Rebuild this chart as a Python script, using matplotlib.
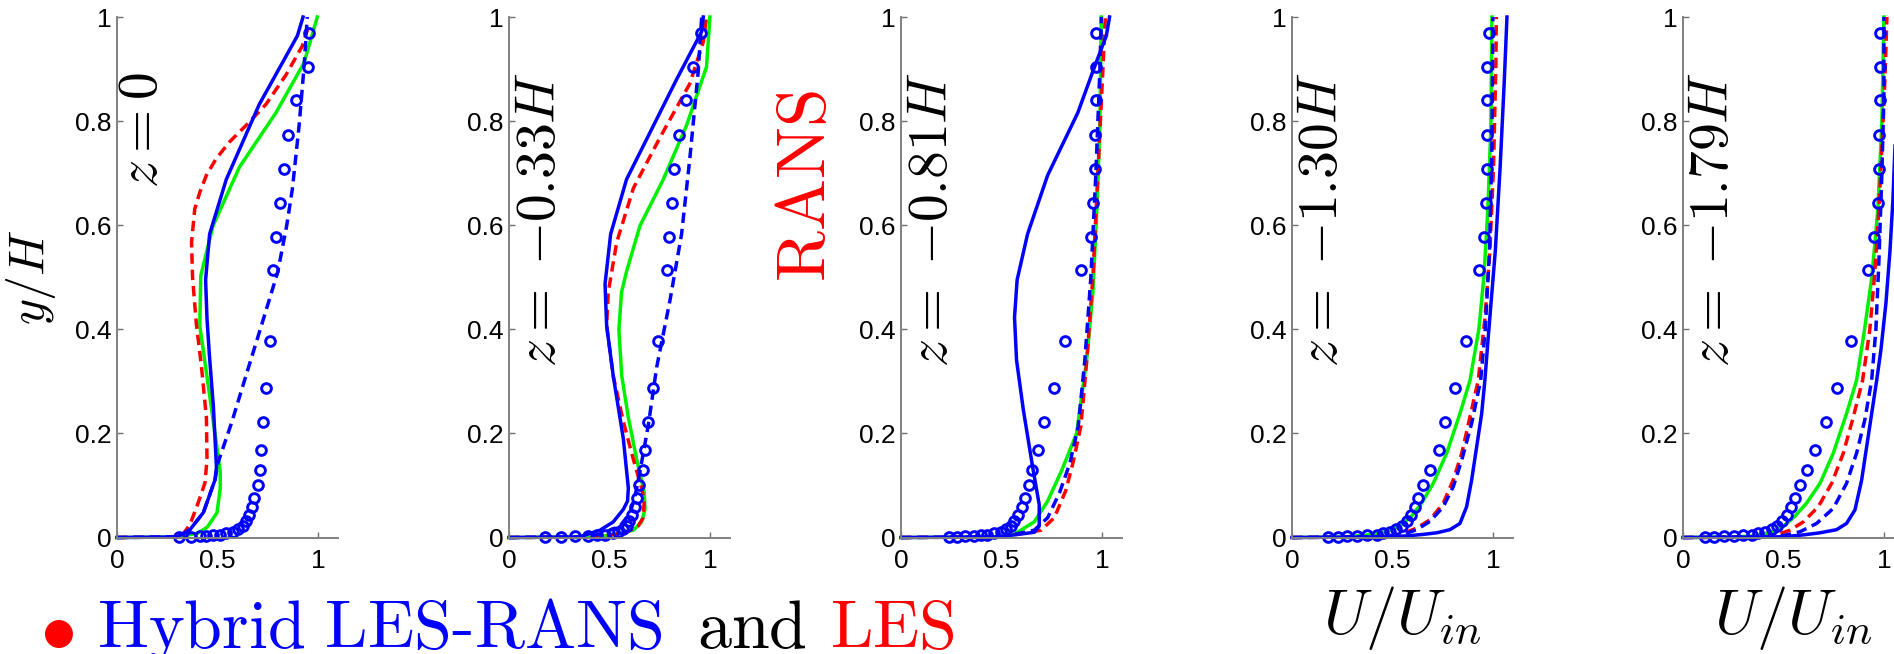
import matplotlib
matplotlib.use('Agg')
import matplotlib.pyplot as plt

plt.rcParams['mathtext.fontset'] = 'cm'
plt.rcParams['font.family'] = 'Liberation Sans'

# streamwise stations
z_labels = [r'$z=0$', r'$z=\;{-}0.33H$', r'$z=\;{-}0.81H$', r'$z=\;{-}1.30H$', r'$z=\;{-}1.79H$']

# measured profiles (circles), same wall-normal positions at every station
y_exp = [0.970, 0.904, 0.840, 0.774, 0.708, 0.643, 0.578, 0.513, 0.377, 0.288,
         0.221, 0.169, 0.129, 0.100, 0.076, 0.058, 0.043, 0.032, 0.022, 0.016,
         0.011, 0.008, 0.0055, 0.004, 0.003, 0.002, 0.001, 0.0006]
exp_z0 = [0.955, 0.951, 0.890, 0.850, 0.829, 0.811, 0.791, 0.774, 0.763, 0.741,
          0.728, 0.717, 0.712, 0.703, 0.684, 0.670, 0.656, 0.642, 0.626, 0.601,
          0.577, 0.544, 0.511, 0.478, 0.445, 0.412, 0.37, 0.31]
exp_z033 = [0.955, 0.917, 0.879, 0.847, 0.821, 0.809, 0.798, 0.784, 0.743, 0.718,
            0.693, 0.677, 0.668, 0.648, 0.635, 0.627, 0.61, 0.599, 0.585, 0.569,
            0.544, 0.519, 0.478, 0.436, 0.395, 0.33, 0.26, 0.18]
exp_z081 = [0.972, 0.972, 0.972, 0.968, 0.967, 0.958, 0.947, 0.897, 0.817, 0.760,
            0.714, 0.680, 0.652, 0.635, 0.617, 0.600, 0.583, 0.563, 0.547, 0.522,
            0.497, 0.463, 0.43, 0.397, 0.363, 0.32, 0.28, 0.238]
exp_z130 = [0.980, 0.973, 0.973, 0.970, 0.970, 0.965, 0.954, 0.929, 0.866, 0.811,
            0.764, 0.731, 0.687, 0.653, 0.629, 0.612, 0.590, 0.570, 0.546, 0.517,
            0.488, 0.454, 0.421, 0.371, 0.322, 0.275, 0.227, 0.177]
exp_z179 = [0.983, 0.982, 0.982, 0.978, 0.975, 0.970, 0.949, 0.922, 0.837, 0.765,
            0.710, 0.657, 0.615, 0.582, 0.557, 0.537, 0.516, 0.491, 0.466, 0.441,
            0.408, 0.375, 0.342, 0.300, 0.255, 0.205, 0.155, 0.109]

# computed profiles as (U/Uin, y/H) pairs
# blue solid
bs_z0 = [(0, 0), (0.30, 0.001), (0.363, 0.015), (0.43, 0.048), (0.488, 0.111), (0.495, 0.135),
         (0.48, 0.25), (0.46, 0.35), (0.448, 0.42), (0.441, 0.495), (0.461, 0.583),
         (0.544, 0.688), (0.708, 0.832), (0.898, 0.964), (0.926, 1.0)]
bs_z033 = [(0, 0), (0.35, 0.001), (0.453, 0.014), (0.519, 0.03), (0.569, 0.054), (0.590, 0.07),
           (0.594, 0.095), (0.569, 0.19), (0.519, 0.31), (0.486, 0.407), (0.478, 0.487),
           (0.506, 0.583), (0.585, 0.688), (0.834, 0.88), (0.959, 0.972), (0.967, 1.0)]
bs_z081 = [(0, 0), (0.46, 0.001), (0.563, 0.005), (0.663, 0.01), (0.688, 0.022), (0.688, 0.063),
           (0.655, 0.136), (0.609, 0.245), (0.575, 0.341), (0.565, 0.423), (0.578, 0.495),
           (0.63, 0.583), (0.73, 0.696), (0.88, 0.816), (0.963, 0.904), (1.022, 0.964),
           (1.038, 1.0)]
bs_z130 = [(0, 0), (0.40, 0.001), (0.488, 0.002), (0.571, 0.003), (0.653, 0.006), (0.72, 0.009),
           (0.786, 0.015), (0.836, 0.027), (0.869, 0.059), (0.894, 0.110), (0.919, 0.174),
           (0.944, 0.238), (0.960, 0.302), (0.978, 0.391), (1.012, 0.551), (1.036, 0.712),
           (1.056, 0.872), (1.07, 1.0)]
bs_z179 = [(0, 0), (0.45, 0.001), (0.516, 0.002), (0.599, 0.005), (0.681, 0.009), (0.764, 0.015),
           (0.814, 0.027), (0.856, 0.053), (0.889, 0.11), (0.914, 0.174), (0.939, 0.238),
           (0.964, 0.302), (0.985, 0.36), (1.01, 0.45), (1.03, 0.55), (1.045, 0.65),
           (1.06, 0.8), (1.07, 1.0)]
# blue dashed
bd_z0 = [(0, 0), (0.30, 0.001), (0.363, 0.015), (0.43, 0.048), (0.488, 0.111), (0.502, 0.143),
         (0.57, 0.22), (0.642, 0.311), (0.725, 0.415), (0.80, 0.51), (0.845, 0.60),
         (0.873, 0.67), (0.906, 0.79), (0.931, 0.904), (0.947, 1.0)]
bd_z033 = [(0, 0), (0.35, 0.001), (0.453, 0.006), (0.552, 0.022), (0.602, 0.046), (0.627, 0.079),
           (0.652, 0.127), (0.693, 0.215), (0.735, 0.327), (0.801, 0.455), (0.859, 0.583),
           (0.900, 0.728), (0.942, 0.896), (0.959, 1.0)]
bd_z081 = [(0, 0), (0.5, 0.001), (0.663, 0.014), (0.73, 0.038), (0.79, 0.087), (0.84, 0.142),
           (0.882, 0.213), (0.915, 0.341), (0.945, 0.5), (0.97, 0.7), (0.99, 0.9), (0.997, 1.0)]
bd_z130 = [(0, 0), (0.40, 0.001), (0.554, 0.006), (0.62, 0.015), (0.687, 0.031), (0.753, 0.059),
           (0.803, 0.098), (0.845, 0.149), (0.894, 0.219), (0.939, 0.302), (0.962, 0.40),
           (0.983, 0.551), (0.995, 0.752), (1.0, 1.0)]
bd_z179 = [(0, 0), (0.45, 0.001), (0.516, 0.005), (0.582, 0.011), (0.665, 0.027), (0.748, 0.056),
           (0.814, 0.104), (0.864, 0.162), (0.905, 0.226), (0.939, 0.302), (0.96, 0.40),
           (0.975, 0.53), (0.99, 0.70), (1.0, 0.85), (1.0, 1.0)]
# red dashed
rd_z0 = [(0, 0), (0.30, 0.001), (0.33, 0.007), (0.363, 0.025), (0.398, 0.06), (0.438, 0.105),
         (0.448, 0.15), (0.445, 0.23), (0.42, 0.33), (0.395, 0.41), (0.376, 0.50),
         (0.371, 0.567), (0.387, 0.631), (0.412, 0.663), (0.445, 0.696), (0.494, 0.728),
         (0.56, 0.760), (0.643, 0.792), (0.741, 0.832), (0.84, 0.888), (0.922, 0.944),
         (0.955, 0.984)]
rd_z033 = [(0, 0), (0.45, 0.001), (0.585, 0.01), (0.643, 0.022), (0.668, 0.038), (0.673, 0.07),
           (0.660, 0.095), (0.619, 0.15), (0.569, 0.223), (0.519, 0.31), (0.486, 0.407),
           (0.494, 0.471), (0.536, 0.567), (0.619, 0.671), (0.751, 0.768), (0.900, 0.872),
           (0.967, 0.952), (0.983, 1.0)]
rd_z081 = [(0, 0), (0.5, 0.001), (0.697, 0.014), (0.763, 0.038), (0.82, 0.09), (0.855, 0.142),
           (0.895, 0.213), (0.925, 0.341), (0.955, 0.5), (0.98, 0.7), (1.005, 0.9), (1.017, 1.0)]
rd_z130 = [(0, 0), (0.40, 0.001), (0.488, 0.003), (0.554, 0.008), (0.62, 0.018), (0.687, 0.034),
           (0.753, 0.066), (0.803, 0.111), (0.845, 0.162), (0.886, 0.232), (0.927, 0.302),
           (0.96, 0.42), (0.985, 0.551), (1.003, 0.712), (1.015, 0.912), (1.017, 1.0)]
rd_z179 = [(0, 0), (0.40, 0.001), (0.466, 0.005), (0.532, 0.014), (0.599, 0.030), (0.673, 0.059),
           (0.74, 0.104), (0.798, 0.162), (0.848, 0.232), (0.894, 0.302), (0.93, 0.40),
           (0.955, 0.51), (0.975, 0.631), (0.99, 0.75), (1.005, 0.88), (1.015, 1.0)]
# green solid
gs_z0 = [(0, 0), (0.30, 0.001), (0.40, 0.008), (0.45, 0.02), (0.498, 0.048), (0.514, 0.095),
         (0.514, 0.125), (0.494, 0.183), (0.453, 0.295), (0.412, 0.407), (0.417, 0.503),
         (0.478, 0.599), (0.61, 0.712), (0.791, 0.816), (0.931, 0.912), (0.997, 1.0)]
gs_z033 = [(0, 0), (0.45, 0.001), (0.619, 0.014), (0.66, 0.03), (0.677, 0.054), (0.673, 0.087),
           (0.635, 0.151), (0.594, 0.231), (0.561, 0.311), (0.547, 0.399), (0.56, 0.471),
           (0.585, 0.511), (0.652, 0.599), (0.768, 0.688), (0.884, 0.792), (0.983, 0.904),
           (1.0, 1.0)]
gs_z081 = [(0, 0), (0.45, 0.001), (0.563, 0.006), (0.663, 0.03), (0.73, 0.07), (0.80, 0.129),
           (0.874, 0.2), (0.924, 0.341), (0.955, 0.471), (0.975, 0.631), (0.99, 0.792),
           (0.997, 1.0)]
gs_z130 = [(0, 0), (0.25, 0.001), (0.322, 0.003), (0.405, 0.006), (0.471, 0.012), (0.537, 0.022),
           (0.595, 0.041), (0.645, 0.066), (0.703, 0.104), (0.77, 0.162), (0.836, 0.238),
           (0.886, 0.302), (0.93, 0.40), (0.955, 0.50), (0.975, 0.631), (0.99, 0.792),
           (0.995, 1.0)]
gs_z179 = [(0, 0), (0.25, 0.001), (0.35, 0.003), (0.433, 0.009), (0.499, 0.021), (0.557, 0.041),
           (0.615, 0.066), (0.682, 0.104), (0.748, 0.162), (0.814, 0.238), (0.864, 0.302),
           (0.90, 0.39), (0.94, 0.50), (0.97, 0.631), (0.99, 0.80), (1.0, 1.0)]

exp_all = [exp_z0, exp_z033, exp_z081, exp_z130, exp_z179]
green_all = [gs_z0, gs_z033, gs_z081, gs_z130, gs_z179]
red_all = [rd_z0, rd_z033, rd_z081, rd_z130, rd_z179]
bdash_all = [bd_z0, bd_z033, bd_z081, bd_z130, bd_z179]
bsolid_all = [bs_z0, bs_z033, bs_z081, bs_z130, bs_z179]

xticks = [0, 0.5, 1]
xtick_labels = ['0', '0.5', '1']
yticks = [0, 0.2, 0.4, 0.6, 0.8, 1]
ytick_labels = ['0', '0.2', '0.4', '0.6', '0.8', '1']

W, H = 1894, 654
fig = plt.figure(figsize=(W / 100, H / 100), dpi=100)
lefts = [117, 509, 901, 1292, 1683]
zlab_x = [0.2, 0.229, 0.229, 0.224, 0.224]
dash = (0, (3.0, 1.7))

for i in range(5):
    ax = fig.add_axes([lefts[i] / W, 116.5 / H, 221 / W, 520.5 / H])
    for prof, col, ls in [(green_all[i], '#00f000', '-'), (red_all[i], 'red', dash),
                          (bdash_all[i], 'blue', dash), (bsolid_all[i], 'blue', '-')]:
        u, y = zip(*prof)
        ax.plot(u, y, color=col, ls=ls, lw=2.5, clip_on=False)
    ax.plot(exp_all[i], y_exp, 'o', mfc='none', mec='blue', ms=7, mew=2.1, clip_on=False)

    ax.set_xlim(0, 1.1)
    ax.set_ylim(0, 1)
    ax.set_xticks(xticks)
    ax.set_xticklabels(xtick_labels)
    ax.set_yticks(yticks)
    ax.set_yticklabels(ytick_labels)
    ax.tick_params(direction='in', length=4, width=1, color='#707070', labelsize=19)
    ax.tick_params(axis='x', pad=8)
    ax.tick_params(axis='y', pad=4)
    for s in ['top', 'right']:
        ax.spines[s].set_visible(False)
    for s in ['left', 'bottom']:
        ax.spines[s].set_color('#808080')
        ax.spines[s].set_linewidth(1.4)
    ax.patch.set_alpha(0)

    ax.text(zlab_x[i], 0.895, z_labels[i], rotation=90, rotation_mode='anchor',
            ha='right', va='baseline', fontsize=40)

    if i == 0:
        ax.set_ylabel(r'$y/H$', fontsize=36)
        ax.yaxis.set_label_coords(-0.267, 0.5)
    if i >= 3:
        ax.set_xlabel(r'$U/U_{in}$', fontsize=45)
        ax.xaxis.set_label_coords(0.5, -0.09)

fig.text(825 / W, (H - 186) / H, r'$\mathrm{RANS}$', rotation=90, rotation_mode='anchor',
         ha='center', va='baseline', fontsize=50, color='red')

# caption line along the bottom edge
base = 6 / H
fig.text(40 / W, 4 / H, r'$\bullet$', color='red', fontsize=52, va='baseline')
fig.text(97 / W, base, r'$\mathrm{Hybrid\ LES}\text{-}\mathrm{RANS}$', color='blue',
         fontsize=49, va='baseline')
fig.text(697 / W, base, r'$\mathrm{and}$', color='black', fontsize=49, va='baseline')
fig.text(830 / W, base, r'$\mathrm{LES}$', color='red', fontsize=49, va='baseline')

fig.savefig('out.png', dpi=100)
